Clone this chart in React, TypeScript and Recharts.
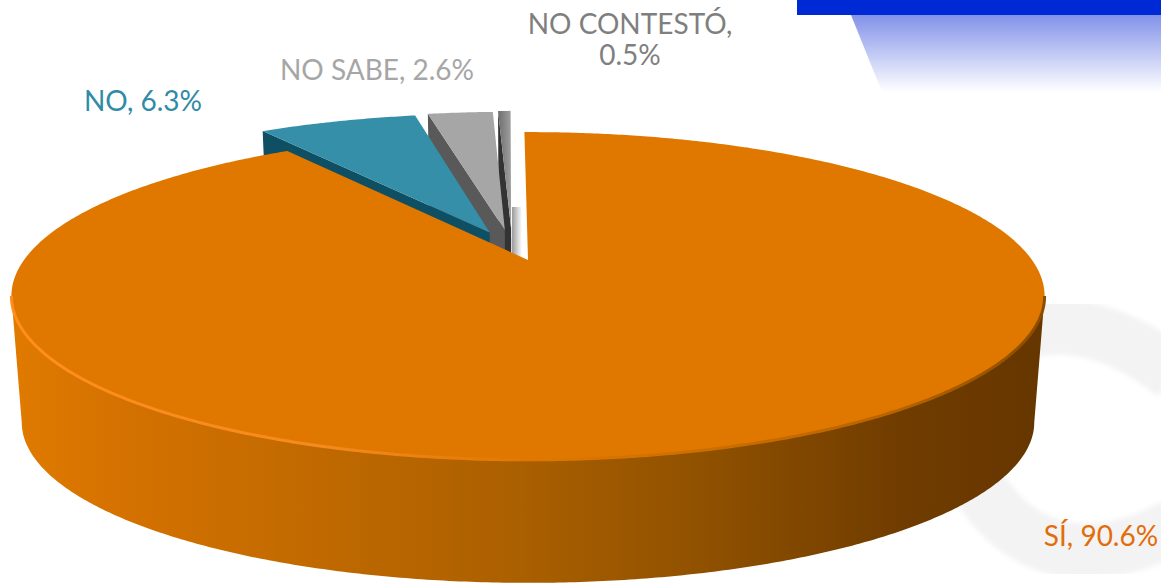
import React from 'react';
import { PieChart, Pie } from 'recharts';

// drawn back to front, going anticlockwise from the top of the disc
const categories = ['NO CONTESTÓ', 'NO SABE', 'NO', 'SÍ'];
const values = [0.5, 2.6, 6.3, 90.6];
const chartData = categories.map((name, i) => ({ name, value: values[i] }));

const WIDTH = 1161;
const HEIGHT = 587;

// perspective of the fake 3D disc
const TILT = 0.3095;
const PERSP = 0.2195;
const DEPTH = 127;
const SHRINK = 0.98;

// look of each slice, same order as categories
const faceColors = ['url(#smallFace)', '#A6A6A6', '#358FA8', '#E07800'];
const wallColors = ['#333333', '#595959', '#0F4F63', 'url(#orangeWall)'];
const explodeX = [-0.035, -0.048, -0.079, 0];
const explodeY = [0.21, 0.2, 0.184, 0];

const labelColors = ['#7F7F7F', '#A6A6A6', '#2F8BA6', '#E36C0A'];
const labelAnchors = [
  { x: 630, y: 34, lines: 2 },
  { x: 377, y: 80, lines: 1 },
  { x: 143, y: 111, lines: 1 },
  { x: 1101, y: 546, lines: 1 },
];

const rad = (deg: number) => (deg * Math.PI) / 180;

const makeProjector = (cx: number, cy: number, r: number, ox: number, oy: number) => {
  return (deg: number, scale: number, bottom: boolean) => {
    const u = ox + scale * Math.cos(rad(deg));
    const v = oy + scale * Math.sin(rad(deg));
    const w = 1 + PERSP * v;
    let x = (r * u) / w;
    let y = (-r * TILT * v) / w;
    if (bottom) {
      x *= SHRINK;
      y = y * SHRINK + DEPTH;
    }
    return `${(cx + x).toFixed(2)},${(cy + y).toFixed(2)}`;
  };
};

const range = (from: number, to: number) => {
  const out: number[] = [];
  const step = to > from ? 0.5 : -0.5;
  for (let a = from; step > 0 ? a < to : a > to; a += step) out.push(a);
  out.push(to);
  return out;
};

const DiscSlice = (props: any) => {
  const { cx, cy, outerRadius, startAngle, endAngle, index } = props;
  const p = makeProjector(cx, cy, outerRadius, explodeX[index], explodeY[index]);
  const arc = range(startAngle, endAngle);
  const face = `M${p(0, 0, false)} L${arc.map((a) => p(a, 1, false)).join(' L')} Z`;

  if (index === 3) {
    // only the front of the big slice shows a curved wall
    const top = range(-167.3, -12.7).map((a) => p(a, 1, false));
    const under = range(-12.7, -167.3).map((a) => p(a, 1, true));
    return (
      <g>
        <path d={`M${top.join(' L')} L${under.join(' L')} Z`} fill={wallColors[index]} />
        <path d={face} fill={faceColors[index]} />
        <path d={`M${top.join(' L')}`} fill="none" stroke="url(#orangeRim)" strokeWidth={3} />
      </g>
    );
  }

  // small slices only show the cut side on their left
  const wall = `M${p(0, 0, false)} L${p(endAngle, 1, false)} L${p(endAngle, 1, true)} L${p(0, 0, true)} Z`;
  return (
    <g>
      <path d={wall} fill={wallColors[index]} />
      <path d={face} fill={faceColors[index]} />
    </g>
  );
};

const SliceLabel = (props: any) => {
  const { index, name, value } = props;
  const pos = labelAnchors[index];
  const style = { fontFamily: 'Lato', fontSize: 28 };
  if (pos.lines === 2) {
    return (
      <text x={pos.x} y={pos.y} textAnchor="middle" fill={labelColors[index]} style={style}>
        <tspan x={pos.x}>{name},</tspan>
        <tspan x={pos.x} dy={31}>{value}%</tspan>
      </text>
    );
  }
  return (
    <text x={pos.x} y={pos.y} textAnchor="middle" fill={labelColors[index]} style={style}>
      {name}, {value}%
    </text>
  );
};

const Backdrop = () => (
  <svg width={WIDTH} height={HEIGHT} style={{ position: 'absolute', left: 0, top: 0 }}>
    <defs>
      <linearGradient id="bannerFade" x1="0" y1="0" x2="0" y2="1">
        <stop offset="0" stopColor="#8292E9" />
        <stop offset="1" stopColor="#FFFFFF" />
      </linearGradient>
      <linearGradient id="slitShade" x1="0" y1="0" x2="1" y2="0">
        <stop offset="0" stopColor="#9A9A9A" />
        <stop offset="1" stopColor="#FFFFFF" />
      </linearGradient>
      <filter id="soft">
        <feGaussianBlur stdDeviation="2.5" />
      </filter>
    </defs>
    <g fill="none" stroke="#F3F3F3" strokeWidth={55} filter="url(#soft)">
      <path d="M1030,330 Q1100,315 1175,375" />
      <path d="M975,480 Q1015,550 1085,551 Q1135,550 1175,525" />
    </g>
    <polygon points="851,15 882,92 1161,92 1161,15" fill="url(#bannerFade)" />
    <rect x={797} y={0} width={364} height={15} fill="#0029D6" />
    <rect x={512} y={207} width={10} height={52} fill="url(#slitShade)" />
  </svg>
);

export default function App() {
  return (
    <div style={{ position: 'absolute', left: 0, top: 0, width: WIDTH, height: HEIGHT, background: '#FFFFFF' }}>
      <Backdrop />
      <div style={{ position: 'absolute', left: 0, top: 0 }}>
        <PieChart width={WIDTH} height={HEIGHT} margin={{ top: 0, right: 0, bottom: 0, left: 0 }}>
          <defs>
            <linearGradient id="orangeWall" gradientUnits="userSpaceOnUse" x1="12" y1="0" x2="1045" y2="0">
              <stop offset="0" stopColor="#E07A00" />
              <stop offset="0.1" stopColor="#D57200" />
              <stop offset="0.28" stopColor="#C26A00" />
              <stop offset="0.48" stopColor="#AC6000" />
              <stop offset="0.68" stopColor="#8E5000" />
              <stop offset="0.86" stopColor="#703C00" />
              <stop offset="1" stopColor="#663600" />
            </linearGradient>
            <linearGradient id="orangeRim" gradientUnits="userSpaceOnUse" x1="12" y1="0" x2="1045" y2="0">
              <stop offset="0" stopColor="#FF8E1C" />
              <stop offset="0.3" stopColor="#F58A1E" />
              <stop offset="0.5" stopColor="#E07800" />
              <stop offset="0.85" stopColor="#B86400" />
              <stop offset="1" stopColor="#8A4C00" />
            </linearGradient>
            <linearGradient id="smallFace" x1="0" y1="0" x2="1" y2="0">
              <stop offset="0" stopColor="#6E6E6E" />
              <stop offset="1" stopColor="#A0A0A0" />
            </linearGradient>
          </defs>
          <Pie
            data={chartData}
            dataKey="value"
            nameKey="name"
            cx={528}
            cy={260}
            innerRadius={0}
            outerRadius={504}
            startAngle={-269.5}
            endAngle={90.5}
            stroke="none"
            label={SliceLabel}
            labelLine={false}
            shape={DiscSlice}
            isAnimationActive={false}
          />
        </PieChart>
      </div>
    </div>
  );
}
